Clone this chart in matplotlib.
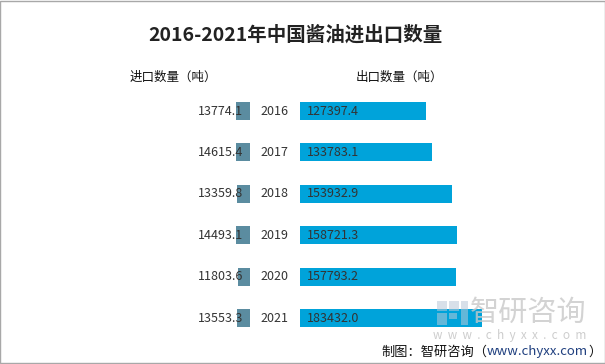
import matplotlib.pyplot as plt
from matplotlib.patches import Rectangle
from matplotlib.transforms import blended_transform_factory

plt.rcParams['font.family'] = ['Noto Sans CJK SC', 'DejaVu Sans']

years = ["2016", "2017", "2018", "2019", "2020", "2021"]
imports = [13774.1, 14615.4, 13359.8, 14493.1, 11803.6, 13553.3]
exports = [127397.4, 133783.1, 153932.9, 158721.3, 157793.2, 183432.0]

W, H = 605, 364
IMP_COLOR = "#5b8ca0"
EXP_COLOR = "#00a3da"
TXT = "#333333"


def fx(px):
    return px / W


def fy(py):
    return 1 - py / H


fig = plt.figure(figsize=(6.05, 3.64), dpi=100)

# 行位置：第一行中心 y=111，最后一行 y=318
top, bottom = 90.3, 338.7
n = len(years)

# 左边进口（向左），右边出口（向右），两边比例一致
ax_l = fig.add_axes([fx(150), fy(bottom), fx(100), (bottom - top) / H])
ax_r = fig.add_axes([fx(300), fy(bottom), fx(260), (bottom - top) / H])
px_per_unit = 0.99 / 1000
ax_l.set_xlim(100 / px_per_unit, 0)
ax_r.set_xlim(0, 260 / px_per_unit)
for ax in (ax_l, ax_r):
    ax.set_ylim(n - 0.5, -0.5)
    ax.axis("off")

ypos = list(range(n))
ax_l.barh(ypos, imports, height=0.435, color=IMP_COLOR)
ax_r.barh(ypos, exports, height=0.435, color=EXP_COLOR)

trans_l = blended_transform_factory(fig.transFigure, ax_l.transData)
trans_r = blended_transform_factory(fig.transFigure, ax_r.transData)
for y, v, yr, e in zip(ypos, imports, years, exports):
    ax_l.text(fx(243), y, f"{v:.1f}", transform=trans_l, ha="right", va="center",
              fontsize=9, color=TXT)
    ax_r.text(fx(274), y, yr, transform=trans_r, ha="center", va="center",
              fontsize=9, color=TXT, clip_on=False)
    ax_r.text(fx(307), y, f"{e:.1f}", transform=trans_r, ha="left", va="center",
              fontsize=9, color=TXT, clip_on=False)

# 标题和列标题
fig.text(fx(295), fy(35), "2016-2021年中国酱油进出口数量", ha="center", va="center",
         fontsize=14, fontweight="bold", color="#222222")
fig.text(fx(130), fy(77), "进口数量（吨）", ha="left", va="center", fontsize=9, color="#111111")
fig.text(fx(356), fy(77), "出口数量（吨）", ha="left", va="center", fontsize=9, color="#111111")

# 水印
for x0, y0, w, h in [(437, 301, 10, 10), (449, 301, 10, 10), (437, 313, 10, 12),
                     (461, 301, 7, 24), (449, 313, 8, 6)]:
    fig.patches.append(Rectangle((fx(x0), fy(y0 + h)), fx(w), h / H, transform=fig.transFigure,
                                 color="#b8c8d8", alpha=0.55, lw=0))
fig.text(fx(528), fy(313), "智研咨询", ha="center", va="center", fontsize=21,
         color="#c8c8c8", alpha=0.8)
fig.text(fx(510), fy(336), "w  w  w  .  c  h  y  x  x  .  c  o  m", ha="center", va="center",
         fontsize=8.5, color="#c8c8c8", alpha=0.9)

# 来源
t1 = fig.text(fx(381), fy(352), "制图：智研咨询（", ha="left", va="center",
              fontsize=9.5, color="#111111")
t2 = plt.annotate("www.chyxx.com", xy=(1, 0), xycoords=t1, ha="left", va="bottom",
                  fontsize=9.5, color="#1f3f7f", annotation_clip=False)
t3 = plt.annotate("）", xy=(1, 0), xycoords=t2, ha="left", va="bottom",
                  fontsize=9.5, color="#111111", annotation_clip=False)

# 外边框
fig.patches.append(Rectangle((0.0008, 0.0014), 0.9984, 0.9972, transform=fig.transFigure,
                             fill=False, edgecolor="#a8a8a8", lw=1))

fig.savefig("out.png", dpi=100, facecolor="white")
